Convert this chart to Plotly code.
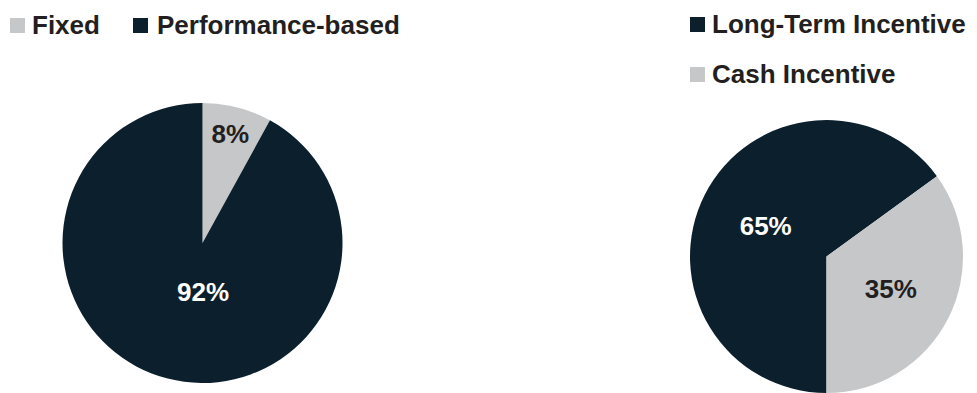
import plotly.graph_objects as go

W, H = 977, 393

# Data
left_labels = ["Fixed", "Performance-based"]
left_values = [8, 92]
right_labels = ["Long-Term Incentive", "Cash Incentive"]
right_values = [65, 35]

DARK = "#0c1f2c"
GRAY = "#c6c7c9"
TXT = "#231f20"
FONT = "Liberation Sans, Arial, Helvetica, sans-serif"

def px(x):
    return x / W

def py(y):
    return 1 - y / H

left_dom_x = [px(62.5), px(342.5)]
left_dom_y = [py(383), py(103)]

fig = go.Figure()

fig.add_trace(go.Pie(
    labels=left_labels, values=left_values,
    marker=dict(colors=[GRAY, DARK], line=dict(width=0)),
    sort=False, direction="clockwise", rotation=0,
    texttemplate="<b>%{value}%</b>", textposition=["inside", "none"],
    insidetextorientation="horizontal",
    textfont=dict(family=FONT, size=26, color=[TXT, "white"]),
    domain=dict(x=left_dom_x, y=left_dom_y),
    showlegend=False, hoverinfo="label+percent",
))

fig.add_trace(go.Pie(
    labels=right_labels, values=right_values,
    marker=dict(colors=[DARK, GRAY], line=dict(width=0)),
    sort=False, direction="counterclockwise", rotation=180,
    texttemplate="<b>%{value}%</b>", textposition="inside",
    insidetextorientation="horizontal",
    textfont=dict(family=FONT, size=26, color=["white", TXT]),
    domain=dict(x=[px(690), px(963)], y=[0, py(120)]),
    showlegend=False, hoverinfo="label+percent",
))

# Legends drawn as squares + text
legend_items = [
    # (square x0, square y0, color, label, text x)
    (10, 18, GRAY, left_labels[0], 32),
    (133, 18, DARK, left_labels[1], 157),
    (690, 17, DARK, right_labels[0], 712),
    (690, 67, GRAY, right_labels[1], 712),
]
shapes = []
annotations = []
for sx, sy, col, lab, tx in legend_items:
    shapes.append(dict(type="rect", xref="paper", yref="paper",
                       x0=px(sx), x1=px(sx + 15), y0=py(sy + 15), y1=py(sy),
                       fillcolor=col, line=dict(width=0)))
    annotations.append(dict(text=f"<b>{lab}</b>", xref="paper", yref="paper",
                            x=px(tx - 2), y=py(sy + 7), xanchor="left", yanchor="middle",
                            showarrow=False, font=dict(family=FONT, size=26, color=TXT)))

# Label of the large slice, placed straight below the pie centre
cx = (left_dom_x[0] + left_dom_x[1]) / 2
cy = (left_dom_y[0] + left_dom_y[1]) / 2
annotations.append(dict(text=f"<b>{left_values[1]}%</b>", xref="paper", yref="paper",
                        x=cx, y=cy - 49 / H, xanchor="center", yanchor="middle",
                        showarrow=False, font=dict(family=FONT, size=26, color="white")))

fig.update_layout(
    width=W, height=H,
    margin=dict(l=0, r=0, t=0, b=0),
    paper_bgcolor="white", plot_bgcolor="white",
    shapes=shapes, annotations=annotations,
)

fig.write_html("out.html", config={"displayModeBar": False},
               post_script="document.body.style.margin='0';document.body.style.overflow='hidden';")
